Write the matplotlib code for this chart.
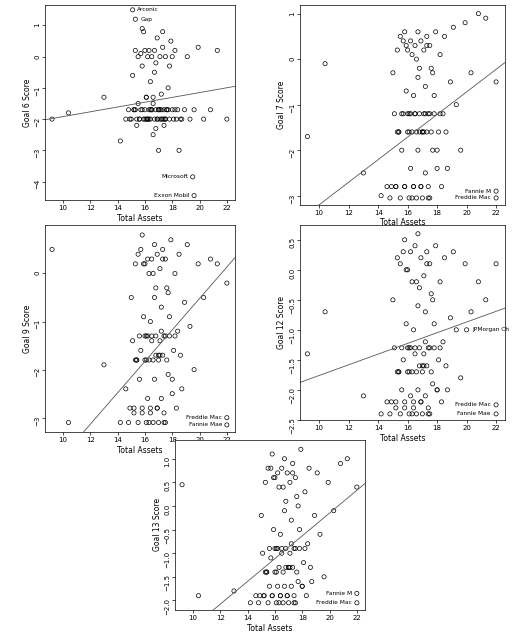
import matplotlib
matplotlib.use("Agg")
import matplotlib.pyplot as plt
import numpy as np

total_assets = [9.2, 10.4, 13.0, 14.2, 14.6, 14.8, 15.0, 15.1, 15.2, 15.3, 15.4, 15.5, 15.5, 15.6, 15.7, 15.8, 15.8, 15.9, 16.0, 16.0,
                16.1, 16.1, 16.2, 16.2, 16.3, 16.3, 16.4, 16.4, 16.5, 16.5, 16.6, 16.6, 16.7, 16.7, 16.8, 16.8, 16.9, 16.9, 17.0, 17.0,
                17.1, 17.1, 17.2, 17.2, 17.3, 17.3, 17.4, 17.4, 17.5, 17.5, 17.6, 17.7, 17.8, 17.9, 18.0, 18.1, 18.2, 18.3, 18.4, 18.5,
                18.7, 18.9, 19.1, 19.3, 19.6, 19.9, 20.3, 20.8, 21.3, 22.0, 15.2, 15.6, 15.9, 16.1, 16.3, 16.5, 16.7, 16.9, 17.1, 17.3,
                17.5, 17.7, 15.4, 15.8, 16.2, 16.6, 17.0, 17.4, 17.8, 18.2, 14.9, 15.3, 15.7, 16.0, 16.4, 16.8, 17.2, 17.6, 18.0, 18.6]

goal6 = [-2.0, -1.8, -1.3, -2.7, -2.0, -1.7, -2.0, -0.6, -1.7, 0.2, -2.0, -1.5, 0.0, -2.0, -1.7, 0.9, -0.3, -2.0, -1.7, 0.2,
         -2.0, -1.3, 0.0, -2.0, -1.7, 0.2, -0.8, -2.0, -1.7, 0.0, -2.5, -1.5, 0.2, -2.0, -1.7, -0.2, -2.0, 0.6, -1.7, -3.0,
         -2.0, 0.0, -1.7, -1.2, -2.0, 0.3, -1.7, -2.2, 0.0, -2.0, -1.7, -1.0, -2.0, 0.5, -1.7, -2.0, 0.2, -2.0, -1.7, -3.0,
         -2.0, -1.7, 0.0, -2.0, -1.7, 0.3, -2.0, -1.7, 0.2, -2.0, -1.7, -2.0, 0.8, -1.3, -2.0, -1.7, -0.5, -2.0, -1.7, 0.8,
         -2.0, -1.7, -2.2, -1.7, -2.0, -1.3, -1.7, -2.0, -0.3, -1.7, -2.0, -1.7, 0.1, -2.0, -1.7, -2.3, -2.0, -1.7, 0.0, -2.0]
goal7 = [-1.7, -0.1, -2.5, -3.0, -2.8, -3.05, -0.3, -1.2, -2.8, 0.2, -1.6, -3.05, 0.5, -2.0, -1.2, 0.6, -2.8, -0.7, -1.6, 0.2,
         -3.05, -1.2, 0.4, -2.4, -1.6, 0.1, -0.8, -2.8, -1.2, 0.3, -3.05, -1.6, 0.6, -2.0, -1.2, -0.2, -2.8, 0.4, -1.6, -3.05,
         -1.2, 0.2, -2.5, -0.6, -1.6, 0.5, -2.8, -1.2, 0.3, -3.05, -1.6, -0.3, -1.2, 0.6, -2.0, -1.6, 0.1, -2.8, -1.2, 0.5,
         -2.4, -0.5, 0.7, -1.0, -2.0, 0.8, -0.3, 1.0, 0.9, -0.5, -2.8, -1.2, 0.3, -1.6, -3.05, -1.2, -0.4, -2.8, -1.6, 0.3,
         -1.2, -2.0, -1.6, -2.8, -1.2, 0.0, -1.6, -3.05, -0.8, -1.2, -2.8, -1.6, 0.4, -1.2, -2.8, -1.6, -1.2, -0.2, -2.4, -1.6]
goal9 = [0.5, -3.1, -1.9, -3.1, -2.4, -3.1, -0.5, -1.4, -2.9, 0.2, -1.8, -3.1, 0.4, -2.2, -1.6, 0.8, -2.8, -0.9, -1.8, 0.2,
         -3.1, -1.3, 0.3, -2.6, -1.8, 0.0, -1.0, -2.9, -1.4, 0.3, -3.1, -1.8, 0.6, -2.2, -1.3, -0.3, -2.8, 0.4, -1.8, -3.1,
         -1.4, 0.1, -2.6, -0.7, -1.7, 0.5, -2.9, -1.3, 0.3, -3.1, -1.8, -0.4, -1.3, 0.7, -2.2, -1.6, 0.0, -2.8, -1.2, 0.4,
         -2.4, -0.6, 0.6, -1.1, -2.0, 0.2, -0.5, 0.3, 0.2, -0.2, -2.8, -1.3, 0.2, -1.8, -3.1, -1.3, -0.5, -2.8, -1.7, 0.3,
         -1.3, -2.1, -1.8, -2.9, -1.3, 0.0, -1.7, -3.1, -0.9, -1.3, -2.8, -1.8, 0.5, -1.3, -2.8, -1.7, -1.2, -0.3, -2.5, -1.7]
goal12 = [-1.4, -0.7, -2.1, -2.4, -2.2, -2.4, -0.5, -1.3, -2.3, 0.2, -1.7, -2.4, 0.1, -2.0, -1.5, 0.5, -2.2, -0.9, -1.7, 0.0,
          -2.4, -1.3, 0.3, -2.1, -1.7, -0.2, -1.0, -2.3, -1.4, 0.4, -2.4, -1.7, 0.6, -2.0, -1.3, -0.3, -2.2, 0.2, -1.7, -2.4,
          -1.4, -0.1, -2.1, -0.7, -1.6, 0.3, -2.3, -1.3, 0.1, -2.4, -1.7, -0.5, -1.3, 0.4, -2.0, -1.5, -0.2, -2.2, -1.2, 0.2,
          -2.0, -0.8, 0.3, -1.0, -1.8, 0.1, -0.7, -0.2, -0.5, 0.1, -2.2, -1.3, 0.0, -1.7, -2.4, -1.3, -0.6, -2.2, -1.6, 0.1,
          -1.3, -1.9, -1.7, -2.3, -1.3, -0.2, -1.6, -2.4, -0.9, -1.3, -2.2, -1.7, 0.3, -1.3, -2.2, -1.6, -1.2, -0.4, -2.0, -1.6]
goal13 = [0.45, -1.9, -1.8, -2.05, -1.9, -2.05, -0.2, -1.0, -1.9, 0.5, -1.4, -2.05, 0.8, -1.7, -1.1, 1.1, -1.9, -0.5, -1.4, 0.6,
          -2.05, -0.9, 0.7, -1.7, -1.3, 0.4, -0.6, -1.9, -1.0, 0.8, -2.05, -1.4, 1.0, -1.7, -0.9, 0.1, -1.9, 0.7, -1.3, -2.05,
          -1.0, 0.5, -1.7, -0.3, -1.3, 0.9, -1.9, -0.9, 0.6, -2.05, -1.4, 0.0, -0.9, 1.2, -1.7, -1.2, 0.3, -1.9, -0.8, 0.8,
          -1.6, -0.2, 0.7, -0.6, -1.5, 0.5, -0.1, 0.9, 1.0, 0.4, -1.9, -0.9, 0.6, -1.4, -2.05, -0.9, -0.1, -1.9, -1.3, 0.7,
          -0.9, -1.6, -1.4, -1.9, -0.9, 0.4, -1.3, -2.05, -0.5, -0.9, -1.9, -1.4, 0.8, -0.9, -1.9, -1.3, -0.8, 0.2, -1.7, -1.3]

panels = [
    dict(name="Goal 6 Score", y=goal6, slope=0.077, icpt=-2.69, ylim=(-4.6, 1.65), yticks=[1, 0, -1, -2, -3, -4],
         lx=[15.1, 15.3, 19.5, 19.6], ly=[1.5, 1.2, -3.85, -4.45], lt=["Arconic", "Gap", "Microsoft", "Exxon Mobil"],
         pos=[0.087, 0.689, 0.365, 0.303]),
    dict(name="Goal 7 Score", y=goal7, slope=0.248, icpt=-5.68, ylim=(-3.2, 1.2), yticks=[1, 0, -1, -2, -3],
         lx=[22.0, 22.0], ly=[-2.9, -3.05], lt=["Fannie M", "Freddie Mac"],
         pos=[0.577, 0.682, 0.394, 0.311]),
    dict(name="Goal 9 Score", y=goal9, slope=0.327, icpt=-7.06, ylim=(-3.3, 1.0), yticks=[0, -1, -2, -3],
         lx=[22.0, 22.0], ly=[-3.0, -3.15], lt=["Freddie Mac", "Fannie Mae"],
         pos=[0.087, 0.329, 0.365, 0.321]),
    dict(name="Goal 12 Score", y=goal12, slope=0.089, icpt=-2.65, ylim=(-2.5, 0.75), yticks=[0.5, 0.0, -0.5, -1.0, -1.5, -2.0, -2.5],
         lx=[20.0, 22.0, 22.0], ly=[-1.0, -2.25, -2.4], lt=["JPMorgan Ch", "Freddie Mac", "Fannie Mae"],
         pos=[0.577, 0.348, 0.394, 0.303]),
    dict(name="Goal 13 Score", y=goal13, slope=0.241, icpt=-4.97, ylim=(-2.2, 1.4), yticks=[1.0, 0.5, 0.0, -0.5, -1.0, -1.5, -2.0],
         lx=[22.0, 22.0], ly=[-1.85, -2.05], lt=["Fannie M", "Freddie Mac"],
         pos=[0.337, 0.053, 0.365, 0.264]),
]

fig = plt.figure(figsize=(5.2, 6.44), dpi=100)
for p in panels:
    ax = fig.add_axes(p["pos"])
    ax.scatter(total_assets, p["y"], s=9, facecolors="none", edgecolors="black", linewidths=0.5)
    ax.scatter(p["lx"], p["ly"], s=9, facecolors="none", edgecolors="black", linewidths=0.5)
    for x, y, t in zip(p["lx"], p["ly"], p["lt"]):
        right = x >= 21.5 or t in ("Microsoft", "Exxon Mobil")
        ax.text(x - 0.35 if right else x + 0.35, y, t, fontsize=4.2,
                ha="right" if right else "left", va="center")
    xs = np.array([8.5, 23])
    ax.plot(xs, p["icpt"] + p["slope"] * xs, color="#555555", lw=0.6)
    ax.set_xlim(8.7, 22.6)
    ax.set_ylim(*p["ylim"])
    ax.set_xticks([10, 12, 14, 16, 18, 20, 22])
    ax.set_yticks(p["yticks"])
    ax.tick_params(labelsize=5, length=2, width=0.5, pad=1.5)
    ax.tick_params(axis="y", labelrotation=90)
    for s in ax.spines.values():
        s.set_linewidth(0.5)
    ax.set_xlabel("Total Assets", fontsize=5.5, labelpad=2)
    ax.set_ylabel(p["name"], fontsize=5.5, labelpad=2)

fig.savefig("out.png", dpi=100)
